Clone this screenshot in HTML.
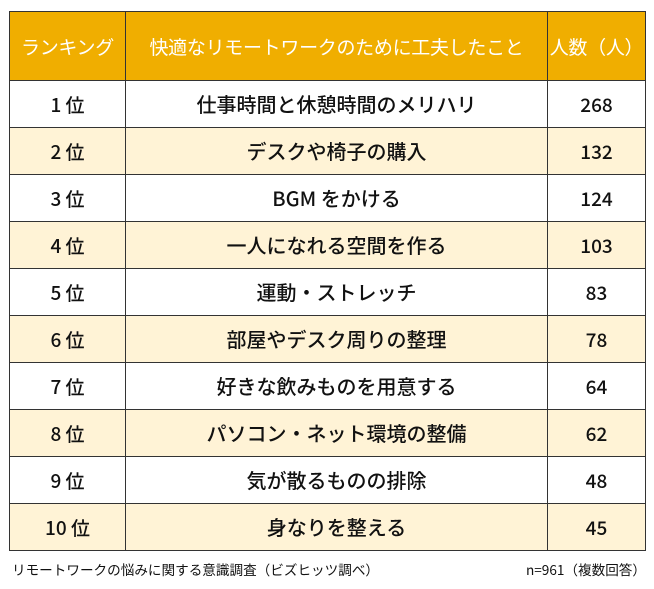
<!DOCTYPE html>
<html><head><meta charset="utf-8"><style>
body{margin:0;width:654px;height:589px;background:#fff;font-family:"Noto Sans CJK JP","Liberation Sans",sans-serif;position:relative;overflow:hidden}
table{position:absolute;left:9px;top:11px;border-collapse:collapse;table-layout:fixed;width:636px}
td,th{border:1px solid #333;text-align:center;padding:0;color:#111;vertical-align:middle;line-height:1}
th{background:#F0AE00;color:#fff;font-weight:normal;font-size:19px;height:68px;letter-spacing:-0.3px}
td{height:46px;font-size:19px;font-weight:500}
td:nth-child(2){font-size:20px}
tr:nth-child(odd) td{background:#FFF3D6}
.f{position:absolute;top:559px;font-size:13.6px;color:#111}
</style></head><body>
<table>
<colgroup><col style="width:116px"><col style="width:422px"><col style="width:98px"></colgroup>
<tr><th>ランキング</th><th>快適なリモートワークのために工夫したこと</th><th>人数（人）</th></tr>
<tr><td>1 位</td><td>仕事時間と休憩時間のメリハリ</td><td>268</td></tr>
<tr><td>2 位</td><td>デスクや椅子の購入</td><td>132</td></tr>
<tr><td>3 位</td><td>BGM をかける</td><td>124</td></tr>
<tr><td>4 位</td><td>一人になれる空間を作る</td><td>103</td></tr>
<tr><td>5 位</td><td>運動・ストレッチ</td><td>83</td></tr>
<tr><td>6 位</td><td>部屋やデスク周りの整理</td><td>78</td></tr>
<tr><td>7 位</td><td>好きな飲みものを用意する</td><td>64</td></tr>
<tr><td>8 位</td><td>パソコン・ネット環境の整備</td><td>62</td></tr>
<tr><td>9 位</td><td>気が散るものの排除</td><td>48</td></tr>
<tr><td>10 位</td><td>身なりを整える</td><td>45</td></tr>
</table>
<div class="f" style="left:12px">リモートワークの悩みに関する意識調査（ビズヒッツ調べ）</div>
<div class="f" style="right:8px">n=961（複数回答）</div>
</body></html>
